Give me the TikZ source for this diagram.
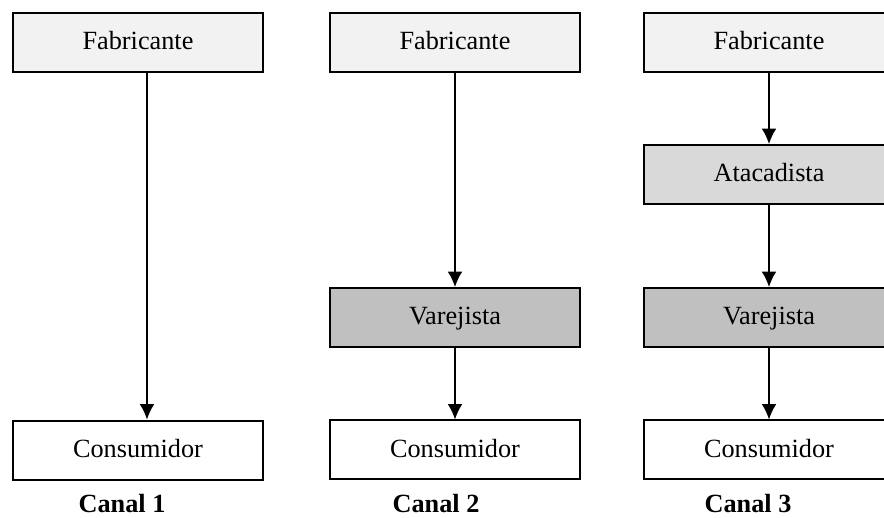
\documentclass[tikz,border=0pt]{standalone}
\usepackage{fontspec}
\setmainfont{Liberation Serif}
\usetikzlibrary{arrows.meta,positioning}
\definecolor{makerColor}{RGB}{242,242,242}
\definecolor{wholesalerColor}{RGB}{217,217,217}
\definecolor{retailerColor}{RGB}{192,192,192}
\tikzset{stage/.append style={draw, line width=1.5pt, inner sep=0pt, minimum width=187.5pt, minimum height=44.25pt, text height=14pt, text depth=3pt, font=\fontsize{19.7}{23}\selectfont}}
\tikzset{maker/.style={stage, fill=makerColor}}
\tikzset{wholesaler/.style={stage, fill=wholesalerColor}}
\tikzset{retailer/.style={stage, fill=retailerColor}}
\tikzset{consumer/.style={stage, fill=white}}
\tikzset{channel/.style={inner sep=1pt, font=\fontsize{19.7}{23}\selectfont\bfseries}}

\begin{document}
\begin{tikzpicture}[x=0.75pt, y=-0.75pt]
\clip (0,0) rectangle (884,517);
% Nodes
\node (Fabricante1) [maker] at (138,42.5) {Fabricante};
\node (Consumidor1) [consumer] at (138,450) {Consumidor};

\node (Fabricante2) [maker] at (455,42.5) {Fabricante};
\node (Varejista2) [retailer] at (455,317.5) {Varejista};
\node (Consumidor2) [consumer, below=53.6pt of Varejista2] {Consumidor};

\node (Fabricante3) [maker] at (769,42.5) {Fabricante};
\node (Atacadista3) [wholesaler, below=53.25pt of Fabricante3] {Atacadista};
\node (Varejista3) [retailer, below=61.5pt of Atacadista3] {Varejista};
\node (Consumidor3) [consumer, below=53.6pt of Varejista3] {Consumidor};

\node (Canal1) [channel] at (122,504) {Canal 1};
\node (Canal2) [channel] at (436,504) {Canal 2};
\node (Canal3) [channel] at (748,504) {Canal 3};

% Connectors
\begin{scope}[line width=1.1pt, -{Latex[length=11.5pt, width=11pt]}]
\draw ([xshift=6.75pt]Fabricante1.south) -- ([xshift=6.75pt]Consumidor1.north);

\draw (Fabricante2) -- (Varejista2);
\draw (Varejista2) -- (Consumidor2);

\draw (Fabricante3) -- (Atacadista3);
\draw (Atacadista3) -- (Varejista3);
\draw (Varejista3) -- (Consumidor3);
\end{scope}

\end{tikzpicture}
\end{document}
